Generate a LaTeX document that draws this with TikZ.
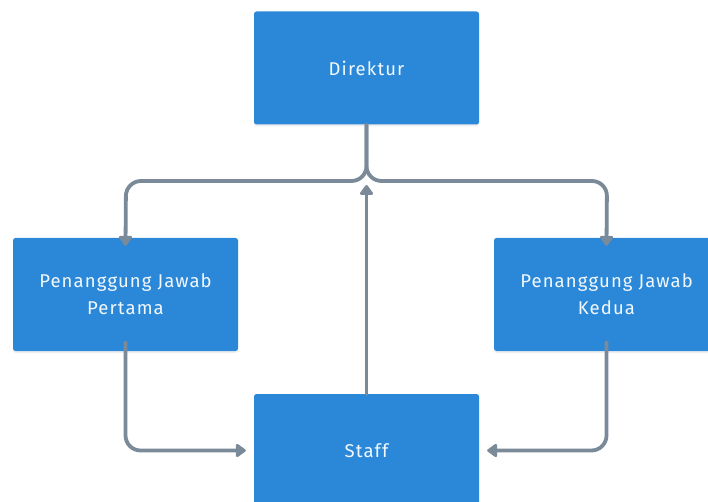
\documentclass[tikz,border=0pt]{standalone}
\usepackage{fontspec}
\setmainfont[LetterSpace=6]{Fira Sans}
\usetikzlibrary{arrows.meta,shadows,calc}
\definecolor{boxblue}{HTML}{2B88D8}
\definecolor{conn}{HTML}{7B8A99}
\tikzset{
  box/.style={fill=boxblue, rounded corners=2.5pt, minimum width=225pt, minimum height=113pt,
    text=white!94!boxblue, font=\fontsize{18.5}{27}\selectfont, align=center, inner sep=0pt,
    drop shadow={opacity=0.12, shadow xshift=0pt, shadow yshift=-2pt}},
  link/.style={draw=conn, line width=3.8pt, rounded corners=15pt, line cap=round,
    -{Triangle[width=15pt,length=11pt,round]}},
}
\begin{document}
\begin{tikzpicture}[x=1pt,y=-1pt]
\useasboundingbox (0,0) rectangle (708,502);
\clip (0,0) rectangle (708,502);
\fill[white] (0,0) rectangle (708,502);
\node[box] (D) at (366.5,68) {Direktur};
\node[box] (L) at (125.5,294.5) {Penanggung Jawab\\Pertama};
\node[box] (R) at (606.5,294.5) {Penanggung Jawab\\Kedua};
\node[box] (S) at (366.5,450.5) {Staff};
\coordinate (jl) at (126,181);
\coordinate (jr) at (607,181);
\draw[link] (D.south) -- (D.south |- jl) -- (jl) -- ([yshift=-8pt]L.north);
\draw[link] (D.south) -- (D.south |- jr) -- (jr) -- ([yshift=-8pt]R.north);
\draw[link] (S.north) -- ([yshift=-4pt]D.south |- jl);
\draw[link] ([yshift=9pt]L.south) -- (L.south |- S.west) -- ([xshift=-8pt]S.west);
\draw[link] ([yshift=9pt]R.south) -- (R.south |- S.east) -- ([xshift=8pt]S.east);
\end{tikzpicture}
\end{document}
